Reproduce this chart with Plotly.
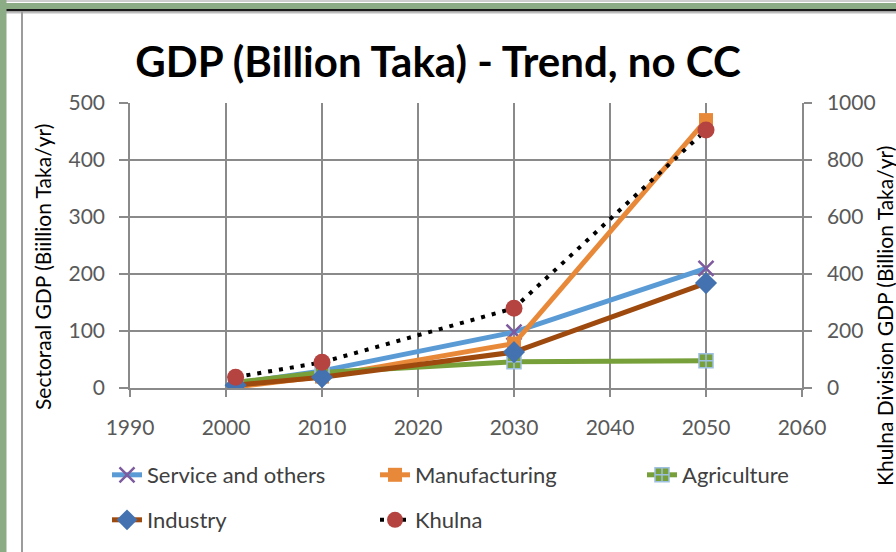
import plotly.graph_objects as go

# Sector GDP (billion Taka/yr), trend scenario without climate change
years = [2001, 2010, 2030, 2050]
service = [8, 30, 98, 210]
manufacturing = [2, 20, 78, 470]
agriculture = [10, 27, 46, 48]
industry = [5, 19, 63, 184]
# Khulna Division total GDP on the secondary axis
khulna = [38, 90, 280, 905]

x_ticks = [1990, 2000, 2010, 2020, 2030, 2040, 2050, 2060]
y_ticks = [0, 100, 200, 300, 400, 500]
y2_ticks = [0, 200, 400, 600, 800, 1000]

W, H = 896, 552
ML, MR, MT, MB = 130, 94, 103, 164
PW, PH = W - ML - MR, H - MT - MB

FONT = "Lato"
TICK_COLOR = "#595959"
GRID = "#8a8a8a"


def px(xp):
    return (xp - ML) / PW


def py(yp):
    return (H - MB - yp) / PH


fig = go.Figure()

fig.add_trace(go.Scatter(
    x=years, y=service, name="Service and others", mode="lines+markers",
    line=dict(color="#5B9BD5", width=5),
    marker=dict(symbol="x-thin", size=15, line=dict(color="#7E5B9E", width=2.5)),
    legend="legend",
))
fig.add_trace(go.Scatter(
    x=years, y=manufacturing, name="Manufacturing", mode="lines+markers",
    line=dict(color="#E8893A", width=5),
    marker=dict(symbol="square", size=14, color="#E8893A"),
    legend="legend",
))
fig.add_trace(go.Scatter(
    x=years, y=agriculture, name="Agriculture", mode="lines+markers",
    line=dict(color="#77A03A", width=5),
    marker=dict(symbol="square-cross", size=14, color="#77A03A",
                line=dict(color="#9DBFE0", width=1.5)),
    legend="legend3",
))
fig.add_trace(go.Scatter(
    x=years, y=industry, name="Industry", mode="lines+markers",
    line=dict(color="#9E4A0E", width=5),
    marker=dict(symbol="diamond", size=17, color="#4472B0"),
    legend="legend2",
))
fig.add_trace(go.Scatter(
    x=years, y=khulna, name="Khulna", mode="lines+markers", yaxis="y2",
    line=dict(color="#000000", width=4, dash="4px,7px"),
    marker=dict(symbol="circle", size=17, color="#B5433F"),
    legend="legend2",
))

axis_common = dict(
    showline=True, linecolor=GRID, linewidth=1.5,
    tickfont=dict(family=FONT, size=21, color=TICK_COLOR),
    ticks="outside", tickcolor=GRID, tickwidth=1.5,
    zeroline=False, automargin=False,
)

legend_common = dict(
    orientation="h", xref="container", yref="container",
    xanchor="left", yanchor="middle", entrywidth=223,
    font=dict(family=FONT, size=22, color="#404040"),
    bgcolor="rgba(0,0,0,0)",
)

fig.update_layout(
    width=W, height=H,
    margin=dict(l=ML, r=MR, t=MT, b=MB, autoexpand=False),
    paper_bgcolor="white", plot_bgcolor="white",
    font=dict(family=FONT, color="#404040"),
    title=dict(
        text="<b>GDP (Billion Taka) - Trend, no CC</b>",
        font=dict(family=FONT, size=42, color="#000000"),
        x=438 / W, xanchor="center", xref="container",
        y=1 - 62 / H, yanchor="middle", yref="container",
    ),
    xaxis=dict(
        range=[1990, 2060], tickvals=x_ticks, showgrid=True,
        gridcolor=GRID, gridwidth=1.5, ticklen=7, ticklabelstandoff=13,
        **axis_common,
    ),
    yaxis=dict(
        range=[0, 500], tickvals=y_ticks, showgrid=True,
        gridcolor=GRID, gridwidth=1.5, ticklen=9, ticklabelstandoff=10,
        **axis_common,
    ),
    yaxis2=dict(
        range=[0, 1000], tickvals=y2_ticks, overlaying="y", side="right",
        showgrid=False, ticklen=8, ticklabelstandoff=11,
        **axis_common,
    ),
    legend=dict(x=107 / W, y=1 - 475 / H, **legend_common),
    legend2=dict(x=107 / W, y=1 - 520 / H, **legend_common),
    legend3=dict(x=642 / W, y=1 - 475 / H, **legend_common),
    showlegend=True,
)

# axis titles
fig.add_annotation(
    text="Sectoraal GDP (Biillion Taka/yr)", textangle=-90,
    xref="paper", yref="paper", x=px(42), y=py(267),
    xanchor="center", yanchor="middle",
    showarrow=False, font=dict(family=FONT, size=21, color="#000000"),
)
fig.add_annotation(
    text="Khulna Division GDP (Billion Taka/yr)", textangle=-90,
    xref="paper", yref="paper", x=px(884), y=py(316),
    xanchor="center", yanchor="middle",
    showarrow=False, font=dict(family=FONT, size=21, color="#000000"),
)

# window frame around the chart
frame = [
    dict(type="rect", x0=px(0), x1=px(W), y0=py(3), y1=py(9),
         fillcolor="#8CAC86", line=dict(width=0)),
    dict(type="rect", x0=px(0), x1=px(W), y0=py(9), y1=py(11.5),
         fillcolor="#1A1A1A", line=dict(width=0)),
    dict(type="rect", x0=px(6), x1=px(W), y0=py(11.5), y1=py(13.5),
         fillcolor="#BDBDBD", line=dict(width=0)),
    dict(type="rect", x0=px(0), x1=px(6.5), y0=py(0), y1=py(H),
         fillcolor="#8CAC86", line=dict(width=0)),
    dict(type="rect", x0=px(21), x1=px(23), y0=py(11.5), y1=py(H),
         fillcolor="#9C9C9C", line=dict(width=0)),
    dict(type="line", x0=px(6), x1=px(W), y0=py(1), y1=py(1),
         line=dict(color="#9C9C9C", width=1)),
]
for s in frame:
    s.update(xref="paper", yref="paper", layer="above")
    fig.add_shape(**s)

fig.write_html("out.html")
